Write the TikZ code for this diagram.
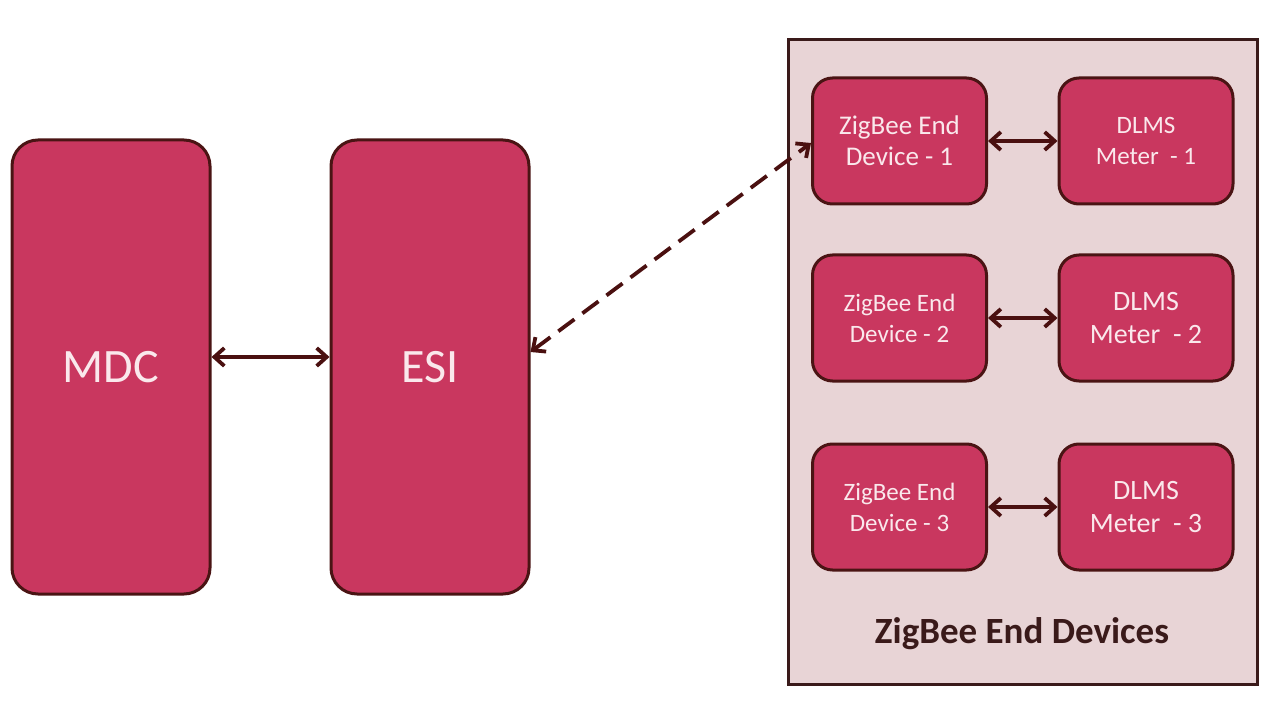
\documentclass[tikz,border=0pt]{standalone}
\usepackage{fontspec}
\setmainfont{Carlito}
\usetikzlibrary{arrows.meta}
\definecolor{boxfill}{HTML}{C9375F}
\definecolor{boxline}{HTML}{4A1414}
\definecolor{contfill}{HTML}{E8D4D6}
\definecolor{contline}{HTML}{3A1A1A}
\definecolor{txt}{HTML}{FAE8EC}
\definecolor{arr}{HTML}{4A1010}
\begin{document}
\begin{tikzpicture}[x=1pt,y=-1pt,
  bigbox/.style={draw=boxline,line width=3pt,fill=boxfill,rounded corners=26pt,
    minimum width=198pt,minimum height=454pt,inner sep=0pt,text=txt,
    font=\fontsize{48}{56}\selectfont},
  smallbox/.style={draw=boxline,line width=3pt,fill=boxfill,rounded corners=20pt,
    minimum width=174pt,minimum height=126pt,inner sep=0pt,text=txt,align=center},
  conn/.style={draw=arr,line width=3.8pt,{Straight Barb[length=10pt,width=18pt,line width=3.8pt]}-{Straight Barb[length=10pt,width=18pt,line width=3.8pt]}},
  dconn/.style={conn,dash pattern=on 20pt off 10pt}
]
\useasboundingbox (0,0) rectangle (1280,719);
\fill[white] (0,0) rectangle (1280,719);
\node[draw=contline,line width=3pt,fill=contfill,minimum width=469pt,minimum height=644pt,inner sep=0pt] (cont) at (1022.5,362) {};
\node[bigbox] (mdc) at (111,367) {MDC};
\node[bigbox] (esi) at (430,367) {ESI};
\node[smallbox,font=\fontsize{27}{31}\selectfont] (z1) at (899.5,141) {ZigBee End\\Device - 1};
\node[smallbox,font=\fontsize{25}{31}\selectfont] (d1) at (1146,141) {DLMS\\Meter~ - 1};
\node[smallbox,font=\fontsize{25}{31}\selectfont] (z2) at (899.5,318) {ZigBee End\\Device - 2};
\node[smallbox,font=\fontsize{28}{33}\selectfont] (d2) at (1146,318) {DLMS\\Meter~ - 2};
\node[smallbox,font=\fontsize{25}{31}\selectfont] (z3) at (899.5,507) {ZigBee End\\Device - 3};
\node[smallbox,font=\fontsize{28}{33}\selectfont] (d3) at (1146,507) {DLMS\\Meter~ - 3};
\node[font=\fontsize{37}{42}\selectfont\bfseries,text=contline] (title) at (1022,634) {ZigBee End Devices};
\coordinate (ya) at (0,357);
\coordinate (yb) at (0,352);
\coordinate (yc) at (0,143);
\draw[conn] (mdc.east |- ya) -- (esi.west |- ya);
\draw[dconn] (esi.east |- yb) -- (z1.west |- yc);
\draw[conn] (z1.east) -- (d1.west);
\draw[conn] (z2.east) -- (d2.west);
\draw[conn] (z3.east) -- (d3.west);
\end{tikzpicture}
\end{document}
